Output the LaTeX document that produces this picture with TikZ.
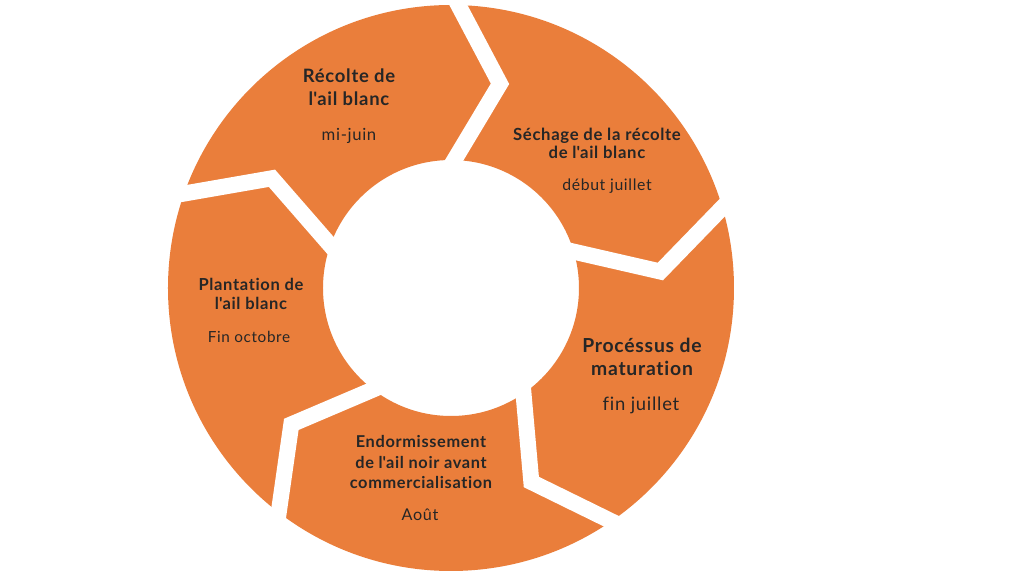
\documentclass[tikz,border=0pt]{standalone}
\usepackage{fontspec}
\setmainfont{Lato}[LetterSpace=4, Ligatures={TeX,NoCommon}]
\usetikzlibrary{calc}
\definecolor{garlicorange}{RGB}{234,126,59}
\definecolor{labelgray}{RGB}{38,38,38}
\newcommand{\apos}{\textquotesingle}

\tikzset{
	stage/.style={align=center, text=labelgray, inner sep=0pt},
	when/.style={text=labelgray, inner sep=0pt, font=\fontsize{10}{12}\selectfont},
	gap/.style={draw=white, line width=0.32cm, line join=miter}
}

\begin{document}
\begin{tikzpicture}
	\useasboundingbox[fill=white] (-9.02,-5.76) rectangle (11.46,5.76);
	\fill[garlicorange, even odd rule] (0,0) circle (5.66) (0,0) circle (2.56);

	% white chevrons between the stages
	\foreach \a in {88.5,16.5,-55.5,-127.5,-199.5}{
		\coordinate (out) at (\a:5.66);
		\coordinate (tip) at (\a-12:4.2);
		\coordinate (in) at (\a:2.56);
		\draw[gap] ($(tip)!1.4!(out)$) -- (tip) -- ($(tip)!1.4!(in)$);
	}

	\node[stage, font=\bfseries\fontsize{10.5}{13}\selectfont] (recolte) at (-2.04,4.01) {Récolte de\\l\apos ail blanc};
	\node[when, font=\fontsize{9.5}{12}\selectfont] (recoltedate) at (-2.04,3.04) {mi-juin};

	\node[stage, font=\bfseries\fontsize{9.5}{9.9}\selectfont] (sechage) at (2.92,2.89) {Séchage de la récolte\\de l\apos ail blanc};
	\node[when, font=\fontsize{9}{11}\selectfont] (sechagedate) at (3.12,2.04) {début juillet};

	\node[stage, font=\bfseries\fontsize{11}{13}\selectfont] (maturation) at (3.82,-1.37) {Procéssus de\\maturation};
	\node[when, font=\fontsize{10.5}{12}\selectfont] (maturationdate) at (3.80,-2.34) {fin juillet};

	\node[stage, font=\bfseries\fontsize{9.3}{11.4}\selectfont] (endormissement) at (-0.6,-3.48) {Endormissement\\de l\apos ail noir avant\\commercialisation};
	\node[when, font=\fontsize{9.2}{12}\selectfont] (endormissementdate) at (-0.62,-4.54) {Août};

	\node[stage, font=\bfseries\fontsize{9.4}{10.8}\selectfont] (plantation) at (-4.0,-0.11) {Plantation de\\l\apos ail blanc};
	\node[when, font=\fontsize{8.7}{12}\selectfont] (plantationdate) at (-4.04,-0.98) {Fin octobre};
\end{tikzpicture}
\end{document}
